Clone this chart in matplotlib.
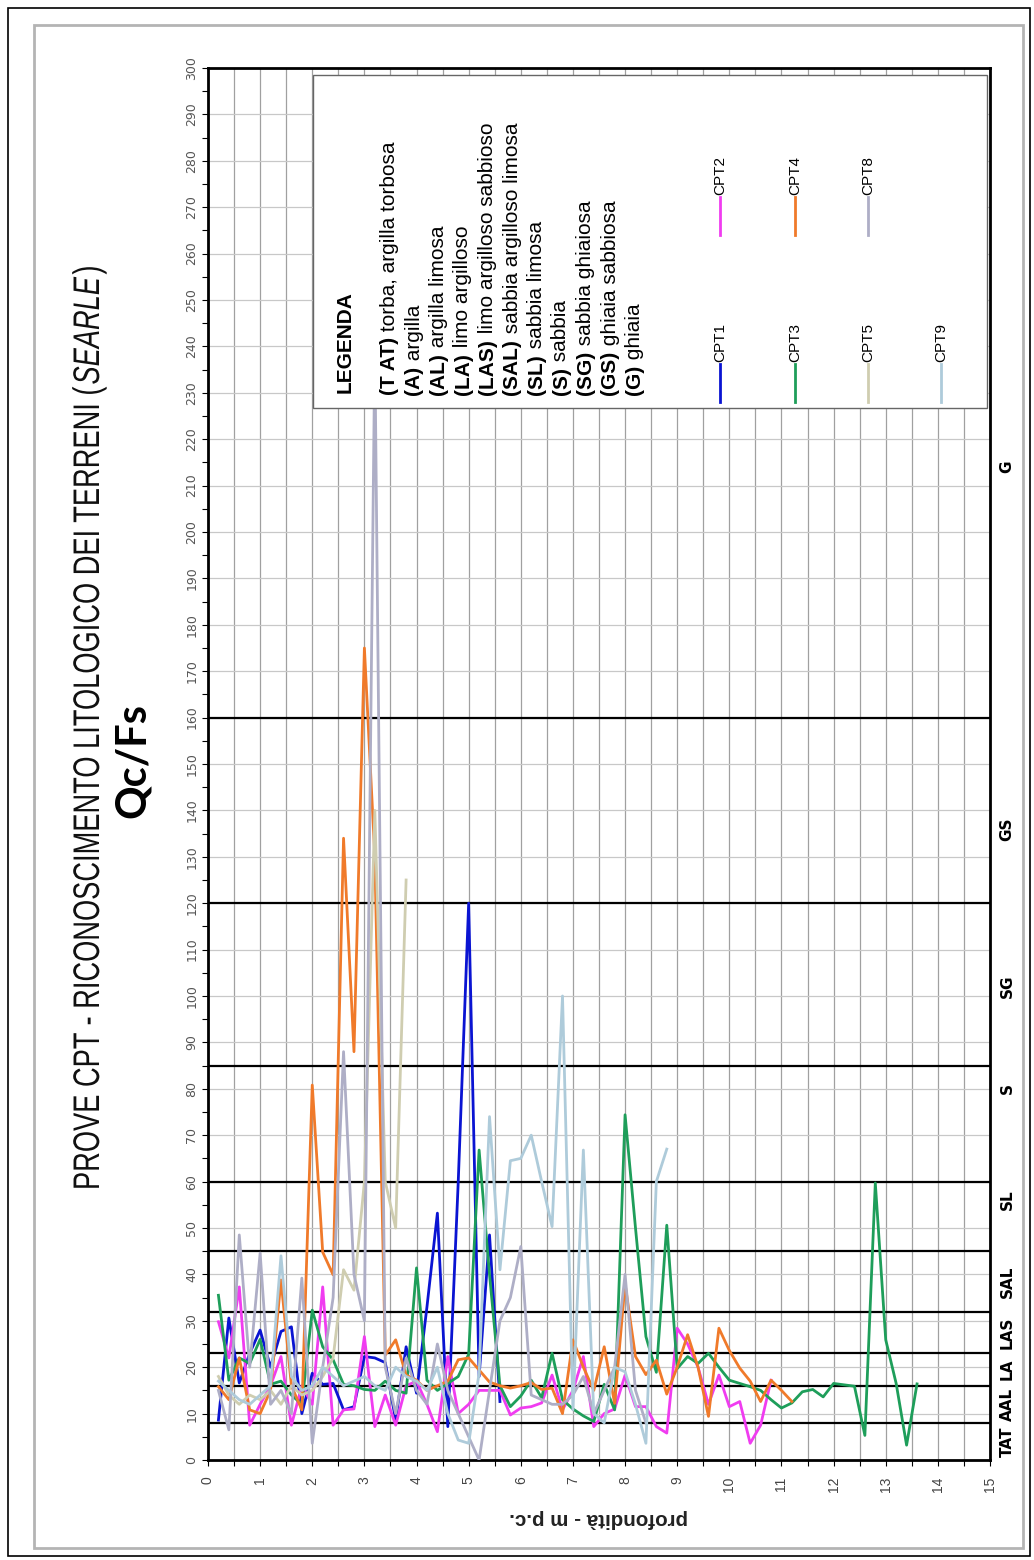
import numpy as np
import matplotlib
matplotlib.use("Agg")
import matplotlib.pyplot as plt
from matplotlib.patches import Rectangle, PathPatch
from matplotlib.textpath import TextPath
from matplotlib.font_manager import FontProperties
from matplotlib.transforms import Affine2D

W, H = 1034, 1560

# ── Data: Qc/Fs per CPT, sampled every 0.2 m from 0.2 m depth ─────────────
STEP = 0.2
CPT1 = [8.6, 30.6, 16.6, 23, 28, 20, 27.7, 28.7, 10, 18.7, 16.3, 16.5, 10.8, 11.5,
        22.3, 22, 21, 8.6, 24.4, 14.4, 33, 53.2, 7.2, 60, 120, 18, 48.5, 12.6]
CPT2 = [29.8, 22, 37.3, 7.5, 12, 16, 22.3, 7.5, 16, 12, 37.3, 7.5, 10.8, 11, 26.6,
        7.2, 14, 7.5, 16, 17, 12, 6.1, 22.3, 10, 12, 15, 15, 15, 9.7, 11.2, 11.5,
        12.3, 18.3, 10.8, 15, 22.3, 7.2, 10, 11, 18.3, 11.5, 11.5, 7.2, 5.8, 28.4,
        25, 20, 12, 18.3, 11.5, 12.6, 3.6, 7.5, 17.2]
CPT3 = [35.5, 17.2, 22, 20.8, 26, 16.3, 17, 14, 12, 32.3, 24.4, 21.6, 16.3, 16,
        15.2, 15, 17, 15, 14.4, 41.4, 17.2, 15, 16.5, 18, 22.8, 66.8, 40, 16, 11.5,
        13.8, 17.2, 13.4, 23, 13, 11, 9.5, 8.3, 16.3, 10.8, 74.4, 50, 26.6, 18.9,
        50.6, 19.7, 22.3, 20.8, 23, 20, 17.2, 16.5, 15.8, 15, 13, 11.2, 12.3, 14.7,
        15.2, 13.6, 16.5, 16.2, 15.9, 5.3, 59.7, 25.9, 16.5, 3.2, 16.4]
CPT4 = [15.8, 13, 22, 10.8, 10, 15, 38.8, 16, 10.8, 80.8, 44.8, 39.9, 134, 88, 175,
        130, 22.6, 25.9, 18.3, 17.2, 15, 16, 17, 21.6, 22, 19.4, 16.8, 16, 15.5, 16,
        16.7, 15.2, 15.5, 10, 25.9, 20, 15, 24.4, 12.2, 38, 22.3, 18.4, 21.5, 14.2,
        20, 27, 20, 9.4, 28.4, 23.6, 19.8, 17, 12.6, 17.2, 15, 12.6]
CPT5 = [18, 14, 12, 14, 13, 15, 12, 16, 14, 15, 18, 22, 41, 36.6, 60, 140, 60, 50, 125]
CPT8 = [15, 6.5, 48.5, 20, 44.6, 12, 15, 10, 39.2, 3.6, 20, 35, 88, 40, 30, 240, 20,
        10, 22, 15, 12, 25, 15, 10, 5, 0, 15, 30, 35, 46, 14, 13, 12, 12, 14, 18, 10,
        15, 20, 40, 15, 8]
CPT9 = [17, 15, 13, 12, 14, 16, 44, 18, 15, 16, 20, 18, 16, 17, 18, 16, 15, 20, 18,
        17, 15, 20, 10, 4.3, 3.6, 18.7, 74, 41, 64.5, 65, 70, 60, 50.3, 100, 10.8,
        66.8, 10, 8, 20, 19, 12, 3.6, 60, 67]

SERIES = ["CPT1", "CPT2", "CPT3", "CPT4", "CPT5", "CPT8", "CPT9"]
VALUES = [CPT1, CPT2, CPT3, CPT4, CPT5, CPT8, CPT9]
COLORS = ["#0A14D2", "#F03CF0", "#1E9E5A", "#F07A2A", "#CFCDB0", "#AEAEC6", "#AECBDA"]

# Searle class limits and labels
LIMITS = [8, 16, 23, 32, 45, 60, 85, 120, 160]
CLASS_LABELS = ["TAT", "AAL", "LA", "LAS", "SAL", "SL", "S", "SG", "GS", "G"]
CLASS_POS = [4, 12, 19.5, 27.5, 38.5, 56, 80, 102, 136, 214]

LEGEND_ROWS = [("(T AT)", " torba, argilla torbosa"), ("(A)", " argilla"),
               ("(AL)", " argilla limosa"), ("(LA)", " limo argilloso"),
               ("(LAS)", " limo argilloso sabbioso"), ("(SAL)", " sabbia argilloso limosa"),
               ("(SL)", " sabbia limosa"), ("(S)", " sabbia"),
               ("(SG)", " sabbia ghiaiosa"), ("(GS)", " ghiaia sabbiosa"), ("(G)", " ghiaia")]

ARIAL = ["Liberation Sans", "DejaVu Sans"]

fig = plt.figure(figsize=(W / 100, H / 100), dpi=100)
fig.patch.set_facecolor("white")
renderer = fig.canvas.get_renderer()


def fx(x):
    return x / W


def fy(y):
    return 1 - y / H


def rtext(x, y, parts, **kw):
    """Rotated (90 deg) text built from parts, starting at pixel (x, y) going up."""
    for s, props in parts:
        t = fig.text(fx(x), fy(y), s, rotation=90, rotation_mode="anchor",
                     ha="left", va="baseline", **kw, **props)
        y -= t.get_window_extent(renderer).height


def narrow_text(x, y, parts, size, length, color="#111111"):
    """Condensed rotated text: glyph paths squeezed to a given pixel length."""
    paths, off = [], 0.0
    for s, fp in parts:
        tp = TextPath((off, 0), s, size=size, prop=fp)
        paths.append(tp)
        off = tp.get_extents().x1 + size * 0.08
    sx = length / off
    tr = Affine2D().scale(sx, 1).rotate_deg(90).translate(x, H - y)
    for tp in paths:
        fig.add_artist(PathPatch(tp, transform=tr, fc=color, ec="none", lw=0))


# ── Frames ──
fig.patches.append(Rectangle((fx(8), fy(1556)), (1030 - 8) / W, (1556 - 8) / H,
                             transform=fig.transFigure, fill=False, ec="black", lw=1.2))
fig.patches.append(Rectangle((fx(34), fy(1548)), (1023 - 34) / W, (1548 - 25) / H,
                             transform=fig.transFigure, fill=False, ec="#b4b4b4", lw=2))

# ── Axes ──
ax = fig.add_axes([fx(208), fy(1460), (990 - 208) / W, (1460 - 68) / H])
for vals, name, c in zip(VALUES, SERIES, COLORS):
    depth = [round(STEP * (i + 1), 1) for i in range(len(vals))]
    ax.plot(depth, vals, color=c, lw=2.0, label=name, zorder=3)

for lim in LIMITS:
    ax.axhline(lim, color="black", lw=1.6, zorder=2)

ax.set_xlim(0, 15)
ax.set_ylim(0, 300)
ax.set_xticks(range(0, 16))
ax.set_xticks(np.arange(0.5, 15, 1), minor=True)
ax.set_yticks(range(0, 301, 10))
ax.set_yticks(range(5, 300, 10), minor=True)
ax.grid(True, which="major", axis="y", color="#c8c8c8", lw=0.9, zorder=1)
ax.grid(True, which="both", axis="x", color="#a0a0a0", lw=0.9, zorder=1)
ax.tick_params(axis="y", which="both", direction="out", length=4, width=0.8,
               labelsize=9, labelcolor="#555555", pad=3, labelrotation=90)
ax.tick_params(axis="x", which="both", direction="out", length=4, width=0.8,
               labelsize=10, labelcolor="#444444", pad=8, labelrotation=90)
for lab in ax.get_yticklabels():
    lab.set_va("center")
for lab in ax.get_xticklabels():
    lab.set_family(ARIAL)
for sp in ax.spines.values():
    sp.set_linewidth(2.0)

ax.set_xlabel("profondità - m p.c.", rotation=180, fontsize=14.8, fontweight="bold",
              family=ARIAL, color="#222222", labelpad=12)

# ── Title (condensed) ──
fp_reg = FontProperties(family="Liberation Sans")
fp_it = FontProperties(family="Liberation Sans", style="italic")
narrow_text(99, 1190, [("PROVE CPT - RICONOSCIMENTO LITOLOGICO DEI TERRENI (", fp_reg),
                       ("SEARLE", fp_it), (")", fp_reg)], size=37, length=925)
fig.text(fx(133), fy(760), "Qc/Fs", rotation=90, ha="center", va="center",
         fontsize=30, fontweight="bold", family=["Lato", "DejaVu Sans"])

# ── Class labels on the right ──
for lab, pos in zip(CLASS_LABELS, CLASS_POS):
    ax.text(1.022, pos, lab, transform=ax.get_yaxis_transform(), rotation=90,
            ha="center", va="center", fontsize=11, fontweight="bold",
            family="DejaVu Sans", clip_on=False)

# ── Legend box ──
fig.patches.append(Rectangle((fx(313), fy(408)), (987 - 313) / W, (408 - 75) / H,
                             transform=fig.transFigure, fc="white", ec="#666666",
                             lw=1.0, zorder=2))
rtext(351, 393, [("LEGENDA", {"weight": "bold"})], family=ARIAL, fontsize=15)
for i, (code, desc) in enumerate(LEGEND_ROWS):
    rtext(395 + 24.5 * i, 395, [(code, {"weight": "bold"}), (desc, {})],
          family=ARIAL, fontsize=15)

LEG_POS = {"CPT2": (720, 235), "CPT4": (795, 235), "CPT8": (868, 235),
           "CPT1": (720, 402), "CPT3": (795, 402), "CPT5": (868, 402),
           "CPT9": (941, 402)}
for name, c in zip(SERIES, COLORS):
    x, y = LEG_POS[name]
    fig.lines.append(plt.Line2D([fx(x), fx(x)], [fy(y), fy(y - 38)],
                                transform=fig.transFigure, color=c, lw=2, zorder=3))
    fig.text(fx(x), fy(y - 40), name, rotation=90, ha="center", va="bottom",
             fontsize=11, family=ARIAL, zorder=3)

fig.savefig("out.png", dpi=100, facecolor="white")
